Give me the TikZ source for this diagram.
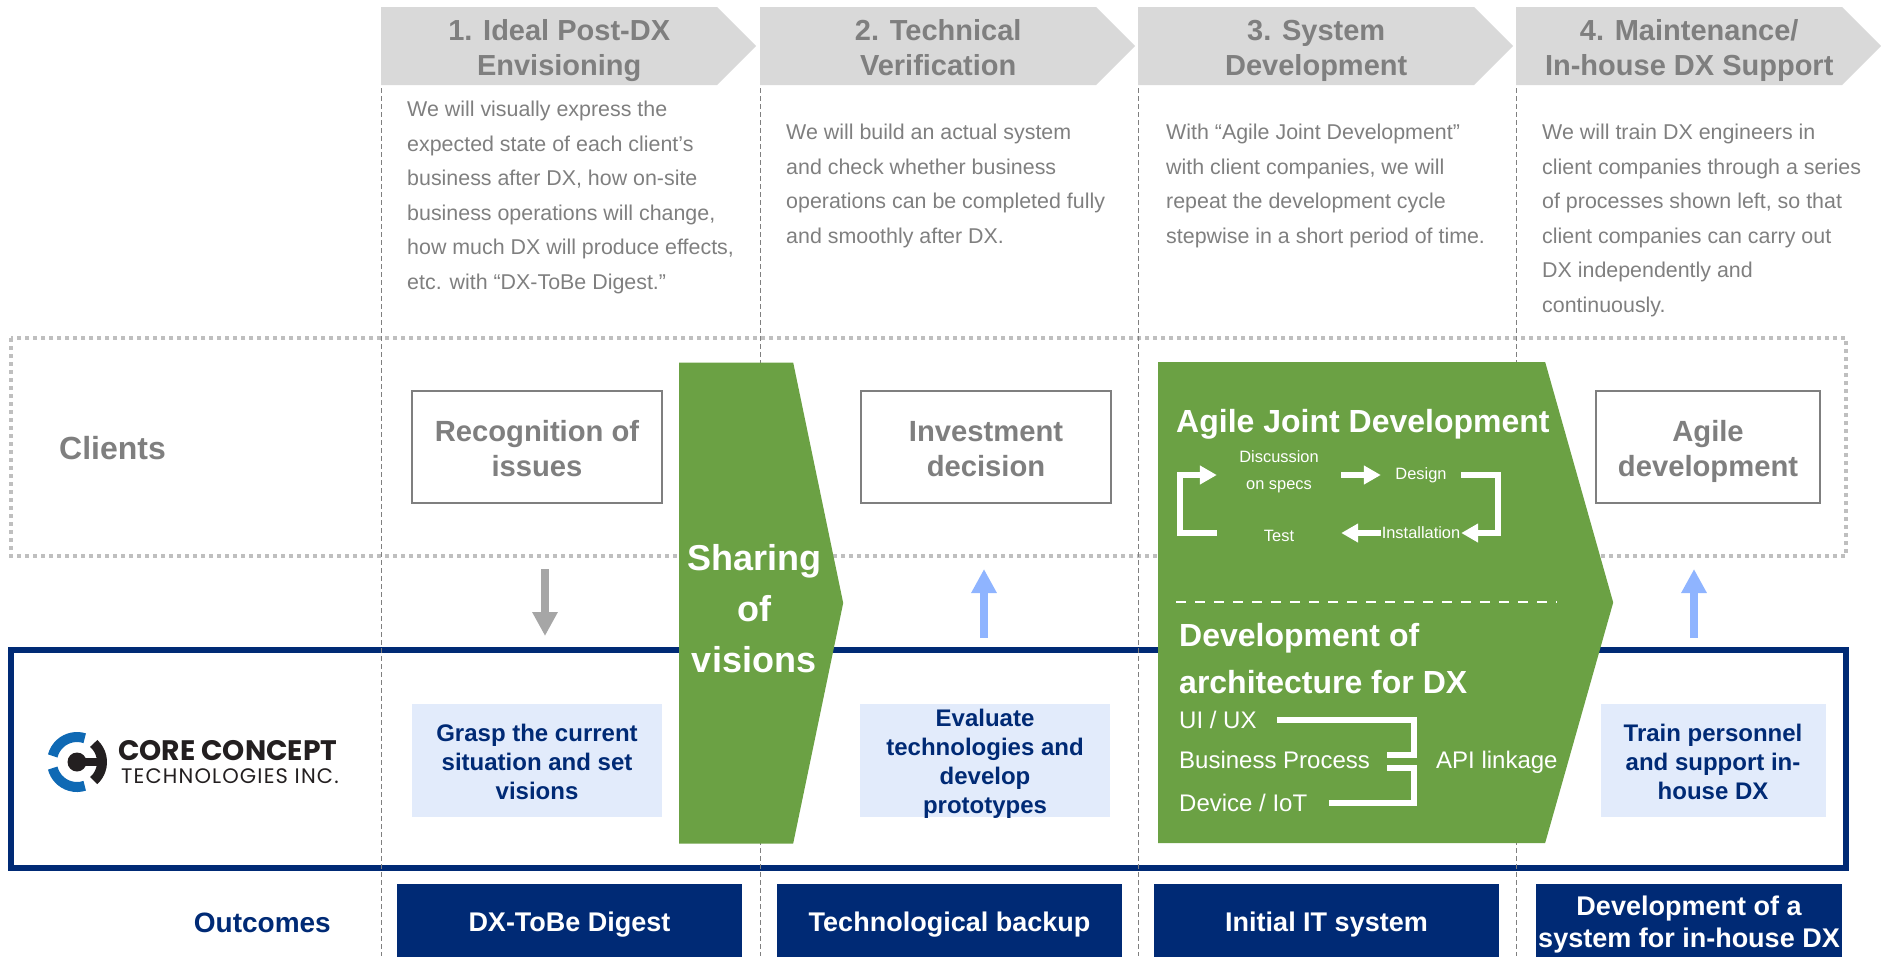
\documentclass[tikz,border=0pt]{standalone}
\usepackage{fontspec}
\setmainfont{Liberation Sans}
\newfontfamily\logofont{Poppins}
\newfontfamily\logosubfont[LetterSpace=5.4]{Poppins}
\usepackage{tikz}
\usetikzlibrary{arrows.meta,shapes.symbols,positioning,calc}
\definecolor{navyblue}{HTML}{002A75}
\definecolor{leafgreen}{HTML}{6BA144}
\definecolor{palegray}{HTML}{D9D9D9}
\definecolor{dotgray}{HTML}{BFBFBF}
\definecolor{midgray}{HTML}{7F7F7F}
\definecolor{arrowgray}{HTML}{A6A6A6}
\definecolor{paleblue}{HTML}{E2EBFB}
\definecolor{skyblue}{HTML}{8FB4FF}
\definecolor{logoblue}{HTML}{0F69B4}
\definecolor{logoblack}{HTML}{231F20}
\newcommand{\fsz}[2]{\fontsize{#1}{#2}\selectfont}
\tikzset{phase/.style={signal,signal to=east,signal pointer angle=90,fill=palegray,minimum width=375pt,minimum height=78pt,inner sep=0pt,anchor=west},
	phasetext/.style={xshift=10pt,text=midgray,align=center,inner sep=0pt,text height=58pt,text depth=0pt,font=\fsz{29}{35}\bfseries},
	desc/.style={anchor=west,align=left,text=midgray,inner sep=0pt,font=\fsz{21.4}{34.6}},
	clientbox/.style={draw=midgray,line width=1.25pt,fill=white,text=midgray,minimum height=112pt,align=center,inner sep=0pt,text height=59pt,text depth=0pt,font=\fsz{29.2}{35}\bfseries},
	corebox/.style={fill=paleblue,text=navyblue,minimum height=113pt,align=center,inner sep=0pt,text height=78pt,text depth=0pt,font=\fsz{24}{29}\bfseries},
	outbox/.style={fill=navyblue,text=white,minimum height=78pt,align=center,inner sep=0pt,text height=17.3pt,text depth=0pt,font=\fsz{27}{32}\bfseries},
	greenhead/.style={anchor=west,align=left,text=white,inner sep=0pt,font=\fsz{32}{47}\bfseries},
	greentext/.style={anchor=west,text=white,inner sep=0pt,font=\fsz{24}{29}},
	cycletext/.style={text=white,inner sep=0pt,align=center,minimum height=20pt,font=\fsz{16.4}{27.5}}}
\tikzstyle{cyclearrow} = [white,line width=5.5pt,-{Triangle[length=17pt,width=18pt]}]
\tikzstyle{apiline}    = [white,line width=5.5pt]
\tikzstyle{flowarrow}  = [line width=8pt,-{Triangle[length=24pt,width=24pt]}]
\tikzstyle{column}     = [midgray,line width=1pt,dash pattern=on 5pt off 3pt]
\begin{document}
\begin{tikzpicture}[x=1pt,y=-1pt]
	\useasboundingbox (0,0) rectangle (1881,956);

	\draw[dotgray,line width=3.5pt,dash pattern=on 4pt off 4pt] (11,338) rectangle (1846,556);
	\draw[navyblue,line width=6pt] (11,650) rectangle (1846,868);

	\coordinate (line1top) at (381,8);
	\coordinate (line1bot) at (381,956);
	\coordinate (line2top) at (760,8);
	\coordinate (line2bot) at (760,956);
	\coordinate (line3top) at (1138,8);
	\coordinate (line3bot) at (1138,956);
	\coordinate (line4top) at (1516.5,8);
	\coordinate (line4bot) at (1516.5,956);
	\draw[column] (line1top) -- (line1bot);
	\draw[column] (line2top) -- (line2bot);
	\draw[column] (line3top) -- (line3bot);
	\draw[column] (line4top) -- (line4bot);

	\node[phase] (P1) at (381,46) {};
	\node[phase] (P2) at (760,46) {};
	\node[phase] (P3) at (1138,46) {};
	\node[phase,minimum width=365pt] (P4) at (1516,46) {};
	\node[phasetext] (T1) at (P1) {1. Ideal Post-DX\\Envisioning};
	\node[phasetext] (T2) at (P2) {2. Technical\\Verification};
	\node[phasetext] (T3) at (P3) {3. System\\Development};
	\node[phasetext] (T4) at (P4) {4. Maintenance/\\In-house DX Support};

	\node[desc] (D1) at (407,197.5) {We will visually express the\\expected state of each client’s\\business after DX, how on-site\\business operations will change,\\how much DX will produce effects,\\etc. with “DX-ToBe Digest.”};
	\node[desc] (D2) at (786,186) {We will build an actual system\\and check whether business\\operations can be completed fully\\and smoothly after DX.};
	\node[desc] (D3) at (1166,186) {With “Agile Joint Development”\\with client companies, we will\\repeat the development cycle\\stepwise in a short period of time.};
	\node[desc] (D4) at (1542,220.5) {We will train DX engineers in\\client companies through a series\\of processes shown left, so that\\client companies can carry out\\DX independently and\\continuously.};

	\node[anchor=west,text=midgray,inner sep=0pt,font=\fsz{32}{38}\bfseries] (clients) at (59,448) {Clients};
	\node[clientbox,minimum width=250pt] (C1) at (537,447) {Recognition of\\issues};
	\node[clientbox,minimum width=250pt] (C2) at (986,447) {Investment\\decision};
	\node[clientbox,minimum width=224pt] (C3) at (1708,447) {Agile\\development};

	\node[corebox,minimum width=250pt] (K1) at (537,760) {Grasp the current\\situation and set\\visions};
	\node[corebox,minimum width=250pt,text height=106pt] (K2) at (985,760) {Evaluate\\technologies and\\develop\\prototypes};
	\node[corebox,minimum width=225pt] (K3) at (1713,760) {Train personnel\\and support in-\\house DX};

	\node[outbox,minimum width=345pt] (O1) at (569.5,923) {DX-ToBe Digest};
	\node[outbox,minimum width=345pt] (O2) at (949.5,923) {Technological backup};
	\node[outbox,minimum width=345pt] (O3) at (1326.5,923) {Initial IT system};
	\node[outbox,minimum width=306pt,text height=49.3pt] (O4) at (1689,923) {Development of a\\system for in-house DX};
	\node[anchor=east,text=navyblue,inner sep=0pt,font=\fsz{28}{32}\bfseries] (outcomes) at (331,923) {Outcomes};

	\coordinate (downtop) at (545,569);
	\coordinate (downtip) at (545,636);
	\coordinate (up1bot) at (984,638);
	\coordinate (up1tip) at (984,569);
	\coordinate (up2bot) at (1694,638);
	\coordinate (up2tip) at (1694,569);
	\draw[flowarrow,color=arrowgray] (downtop) -- (downtip);
	\draw[flowarrow,color=skyblue] (up1bot) -- (up1tip);
	\draw[flowarrow,color=skyblue] (up2bot) -- (up2tip);

	\node[signal,signal to=east,signal pointer angle=156.5,fill=leafgreen,minimum width=164pt,minimum height=481pt,inner sep=0pt,anchor=west] (share) at (679,603) {};
	\node[text=white,align=center,inner sep=0pt,font=\fsz{36}{51}\bfseries] (sharetext) at (754,609) {Sharing\\of\\visions};
	\node[signal,signal to=east,signal pointer angle=148.4,fill=leafgreen,minimum width=455pt,minimum height=481pt,inner sep=0pt,anchor=west] (agile) at (1158,602.5) {};

	\node[greenhead] (agilehead) at (1176,424.5) {Agile Joint Development};
	\node[cycletext,minimum width=124pt] (discuss) at (1279,472) {Discussion\\on specs};
	\node[cycletext,minimum width=80pt] (design) at (1421,475) {Design};
	\node[cycletext,minimum width=80pt] (install) at (1421,533) {Installation};
	\node[cycletext,minimum width=124pt] (testing) at (1279,536) {Test};
	\coordinate (loopright) at (1498,503);
	\coordinate (loopleft) at (1180,503);
	\draw[cyclearrow] (discuss.east |- design) -- (design.west);
	\draw[cyclearrow] (design.east) -| (loopright) |- (install.east);
	\draw[cyclearrow] (install.west) -- (testing.east |- install);
	\draw[cyclearrow] (testing.west |- install) -| (loopleft) |- (discuss.west |- design);

	\coordinate (splitleft) at (1176,602);
	\coordinate (splitright) at (1557,602);
	\draw[white,line width=2.5pt,dash pattern=on 10pt off 9pt] (splitleft) -- (splitright);

	\node[greenhead] (archhead) at (1179,659) {Development of\\architecture for DX};
	\node[greentext] (ui) at (1179,720) {UI / UX};
	\node[greentext] (bizproc) at (1179,760) {Business Process};
	\node[greentext] (device) at (1179,803) {Device / IoT};
	\node[greentext] (api) at (1436,762) {API linkage};
	\coordinate (bridgetop) at (1387,755);
	\coordinate (bridgebot) at (1387,768);
	\coordinate (bridgeup) at (1414,755);
	\coordinate (bridgedown) at (1414,768);
	\draw[apiline] ([xshift=20pt]ui.east) -| (bridgeup) -- (bridgetop);
	\draw[apiline] ([xshift=22pt]device.east) -| (bridgedown) -- (bridgebot);

	\draw[line width=10pt,color=logoblue] (77,762) ++(72:25pt) arc[start angle=72,end angle=166,radius=25pt];
	\draw[line width=10pt,color=logoblue] (77,762) ++(194:25pt) arc[start angle=194,end angle=288,radius=25pt];
	\draw[line width=10pt,color=logoblack] (77,762) ++(-48:25pt) arc[start angle=-48,end angle=48,radius=25pt];
	\fill[logoblack] (77,762) circle (9.5pt);
	\draw[line width=8pt,color=logoblack] (77,762) -- (102,762);
	\node[anchor=base west,inner sep=0pt,text=logoblack,font=\logofont\fsz{28.2}{30}\bfseries] (corename) at (118,760) {CORE CONCEPT};
	\node[anchor=base west,inner sep=0pt,text=logoblack,font=\logosubfont\fsz{21}{24}] (coresub) at (121,783) {TECHNOLOGIES INC.};
\end{tikzpicture}
\end{document}
